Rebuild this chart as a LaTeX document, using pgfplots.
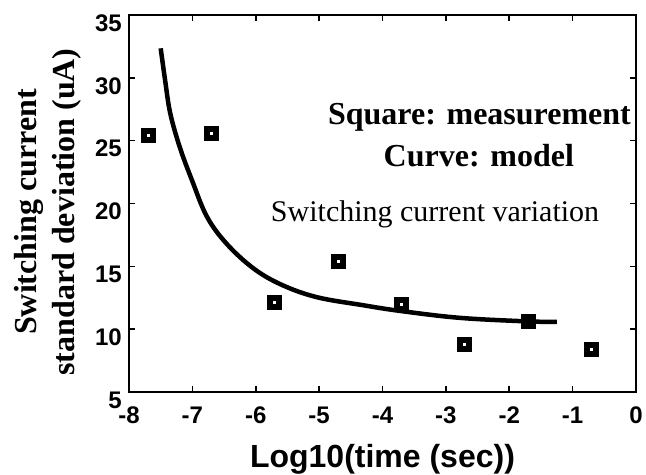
\documentclass[border=0pt]{standalone}
\usepackage{fontspec}
\setmainfont{Liberation Serif}
\newfontfamily\arial{Liberation Sans}
\usepackage{pgfplots}
\pgfplotsset{compat=1.18}

\begin{document}
\begin{tikzpicture}
\begin{axis}[
  scale only axis,
  width=507pt, height=377pt,
  xmin=-8, xmax=0, ymin=5, ymax=35,
  xtick={-8,-7,-6,-5,-4,-3,-2,-1,0},
  xticklabels={-8,-7,-6,-5,-4,-3,-2,-1,0},
  ytick={5,10,15,20,25,30,35},
  yticklabels={5,10,15,20,25,30,35},
  tick align=inside,
  major tick length=6pt,
  axis line style={line width=2pt},
  every tick/.style={black, line width=1.6pt},
  tick label style={font=\arial\bfseries\fontsize{24}{24}\selectfont, inner sep=0pt},
  xticklabel style={anchor=north, yshift=-15pt},
  yticklabel style={anchor=east, xshift=-7pt, yshift=-8pt},
]
% model curve
\addplot[black, line width=4.5pt, smooth, tension=0.6] coordinates {
  (-7.50,32.35) (-7.43,29.8) (-7.35,27.2) (-7.20,24.5) (-7.01,21.9)
  (-6.77,18.95) (-6.46,16.8) (-6.04,14.85) (-5.60,13.55) (-5.04,12.55)
  (-4.30,11.9) (-3.72,11.45) (-2.78,10.9) (-1.72,10.62) (-1.25,10.58)
};
% measurements
\addplot[only marks, mark=square, mark size=4.5pt, line width=6pt, black] coordinates {
  (-7.7,25.44) (-6.7,25.57) (-5.7,12.16) (-4.7,15.42)
  (-3.7,11.95) (-2.7,8.8) (-1.7,10.6) (-0.7,8.36)
};
\node[anchor=base, font=\bfseries\fontsize{32}{32}\selectfont] at (axis cs:-2.47,26.25) {Square: measurement};
\node[anchor=base, font=\bfseries\fontsize{32}{32}\selectfont] at (axis cs:-2.48,22.98) {Curve: model};
\node[anchor=base, font=\fontsize{30}{30}\selectfont] at (axis cs:-3.17,18.53) {Switching current variation};
\end{axis}
\node[rotate=90, anchor=base, font=\bfseries\fontsize{32}{32}\selectfont]
  at ([shift={(-92pt,-8.5pt)}]current axis.west) {Switching current};
\node[rotate=90, anchor=base, font=\bfseries\fontsize{32}{32}\selectfont]
  at ([shift={(-54pt,-8.5pt)}]current axis.west) {standard deviation (uA)};
\node[anchor=base, font=\arial\bfseries\fontsize{32}{32}\selectfont]
  at ([yshift=-75pt]current axis.south) {Log10(time (sec))};
\pgfresetboundingbox
\path[use as bounding box] ([shift={(-129pt,-83pt)}]current axis.south west)
  rectangle ([shift={(10pt,15pt)}]current axis.north east);
\end{tikzpicture}
\end{document}
